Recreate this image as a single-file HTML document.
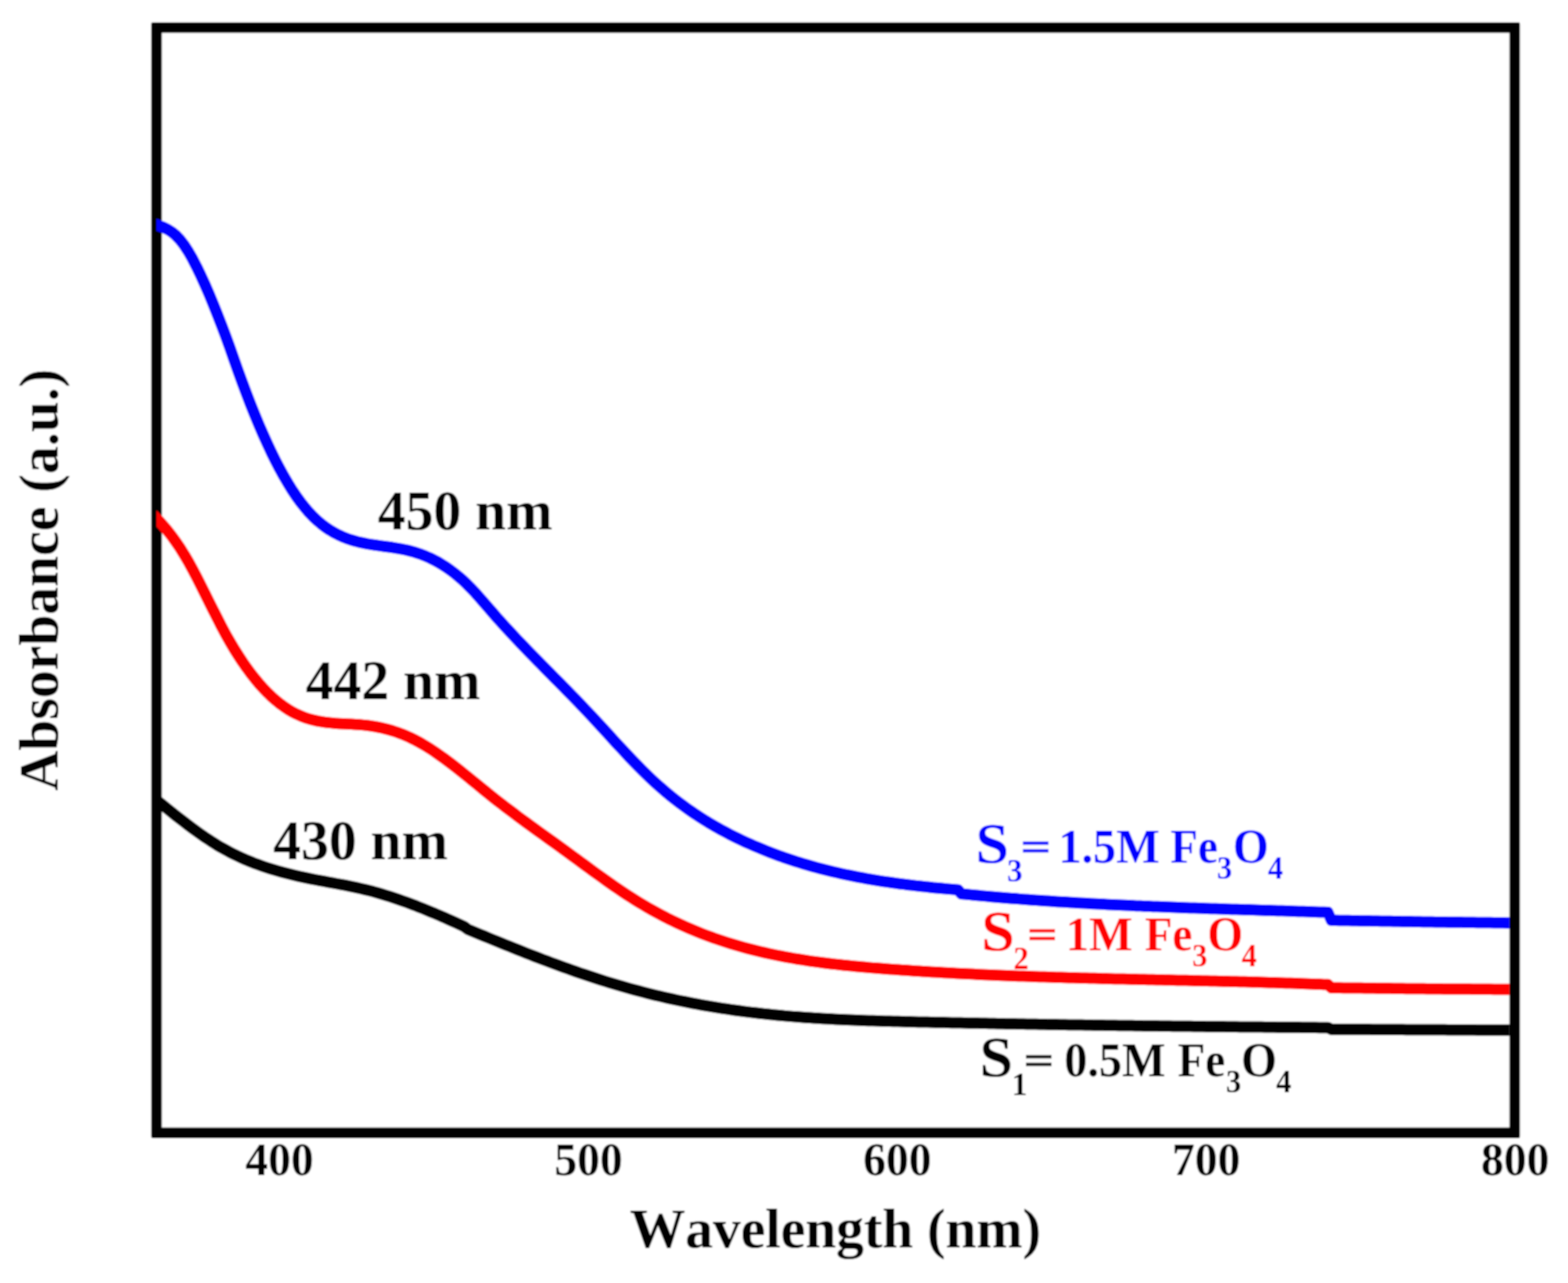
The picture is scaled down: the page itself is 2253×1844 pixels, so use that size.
<!DOCTYPE html>
<html lang="en">
<head>
<meta charset="utf-8">
<title>UV-Vis absorbance spectra of Fe3O4 samples</title>
<style>
html,body{margin:0;padding:0;background:#ffffff;}
body{width:2253px;height:1844px;overflow:hidden;}
svg{display:block;}
text{font-family:"Liberation Serif","DejaVu Serif",serif;font-weight:bold;font-kerning:none;}
text.r{font-weight:normal;}
</style>
</head>
<body>
<svg xmlns="http://www.w3.org/2000/svg" width="2253" height="1844" viewBox="0 0 2253 1844">
<rect x="0" y="0" width="2253" height="1844" fill="#ffffff"/>
<defs><filter id="soft" x="0" y="0" width="2253" height="1844" filterUnits="userSpaceOnUse"><feGaussianBlur stdDeviation="0.8"/></filter></defs>
<g filter="url(#soft)">
<rect x="0" y="0" width="2253" height="1844" fill="#ffffff"/>

<path class="frame" d="M220.20 31.95 H2181.10 Q2184.10 31.95 2184.10 34.95 V1632.90 Q2184.10 1635.90 2181.10 1635.90 H220.20 Q217.20 1635.90 217.20 1632.90 V34.95 Q217.20 31.95 220.20 31.95 Z M232.50 47.25 V1620.60 H2168.80 V47.25 Z" fill="#000" fill-rule="evenodd"/>
<clipPath id="plotclip"><rect x="224.85" y="47.25" width="1943.95" height="1573.35"/></clipPath>
<g clip-path="url(#plotclip)" fill="none" stroke-linejoin="round" stroke-linecap="butt">
<path class="curve black" d="M210.8 1138.6 L216.7 1143.4 L222.6 1148.1 L228.6 1152.9 L234.5 1157.7 L240.4 1162.4 L246.3 1167.2 L252.3 1171.9 L258.2 1176.5 L264.1 1181.1 L270.0 1185.6 L276.0 1190.1 L281.9 1194.4 L287.8 1198.6 L293.7 1202.8 L299.7 1206.7 L305.6 1210.6 L311.5 1214.3 L317.4 1217.8 L323.4 1221.1 L329.3 1224.3 L335.2 1227.3 L341.1 1230.2 L347.1 1233.0 L353.0 1235.6 L358.9 1238.0 L364.8 1240.4 L370.8 1242.6 L376.7 1244.7 L382.6 1246.7 L388.5 1248.6 L394.5 1250.4 L400.4 1252.1 L406.3 1253.8 L412.2 1255.3 L418.2 1256.8 L424.1 1258.2 L430.0 1259.6 L435.9 1260.8 L441.9 1262.1 L447.8 1263.3 L453.7 1264.5 L459.6 1265.6 L465.6 1266.7 L471.5 1267.8 L477.4 1268.9 L483.3 1270.0 L489.3 1271.1 L495.2 1272.2 L501.1 1273.4 L507.0 1274.6 L513.0 1275.9 L518.9 1277.2 L524.8 1278.6 L530.7 1280.1 L536.7 1281.6 L542.6 1283.3 L548.5 1285.0 L554.4 1286.8 L560.4 1288.7 L566.3 1290.6 L572.2 1292.6 L578.1 1294.7 L584.1 1296.8 L590.0 1299.0 L595.9 1301.2 L601.8 1303.6 L607.8 1305.9 L613.7 1308.3 L619.6 1310.8 L625.5 1313.2 L631.5 1315.8 L637.4 1318.3 L643.3 1321.0 L649.2 1323.6 L655.2 1326.3 L661.1 1329.0 L667.0 1331.7 L672.0 1335.6 L678.0 1338.1 L684.0 1340.6 L690.0 1343.1 L696.0 1345.5 L702.0 1348.0 L708.0 1350.5 L714.0 1352.9 L720.0 1355.4 L726.0 1357.8 L732.0 1360.2 L738.0 1362.6 L744.0 1365.0 L750.0 1367.4 L756.0 1369.8 L762.0 1372.1 L768.0 1374.5 L774.0 1376.8 L780.0 1379.1 L786.0 1381.3 L792.0 1383.6 L798.0 1385.8 L804.0 1388.0 L810.0 1390.2 L816.0 1392.3 L822.0 1394.5 L828.0 1396.6 L834.0 1398.7 L840.0 1400.7 L846.0 1402.7 L852.0 1404.7 L858.0 1406.7 L864.0 1408.6 L870.0 1410.5 L876.0 1412.3 L882.0 1414.1 L888.0 1415.9 L894.0 1417.7 L900.0 1419.4 L906.0 1421.1 L912.0 1422.7 L918.0 1424.3 L924.0 1425.9 L930.0 1427.4 L936.0 1428.9 L942.0 1430.4 L948.0 1431.8 L954.0 1433.2 L960.0 1434.6 L966.0 1435.9 L972.0 1437.2 L978.0 1438.5 L984.0 1439.7 L990.0 1440.9 L996.0 1442.1 L1002.0 1443.2 L1008.0 1444.3 L1014.0 1445.4 L1020.0 1446.4 L1026.0 1447.4 L1032.0 1448.4 L1038.0 1449.3 L1044.0 1450.2 L1050.0 1451.1 L1056.0 1452.0 L1062.0 1452.8 L1068.0 1453.6 L1074.0 1454.4 L1080.0 1455.1 L1086.0 1455.8 L1092.0 1456.5 L1098.0 1457.1 L1104.0 1457.8 L1110.0 1458.4 L1116.0 1459.0 L1122.0 1459.5 L1128.0 1460.1 L1134.0 1460.6 L1140.0 1461.1 L1146.0 1461.5 L1152.0 1462.0 L1158.0 1462.4 L1164.0 1462.8 L1170.0 1463.2 L1176.0 1463.6 L1182.0 1463.9 L1188.0 1464.3 L1194.0 1464.6 L1200.0 1464.9 L1206.0 1465.2 L1212.0 1465.5 L1218.0 1465.8 L1224.0 1466.0 L1230.0 1466.3 L1236.0 1466.5 L1242.0 1466.7 L1248.0 1466.9 L1254.0 1467.1 L1260.0 1467.3 L1266.0 1467.5 L1272.0 1467.7 L1278.0 1467.8 L1284.0 1468.0 L1290.0 1468.1 L1296.0 1468.3 L1302.0 1468.4 L1308.0 1468.6 L1314.0 1468.7 L1320.0 1468.9 L1326.0 1469.0 L1332.0 1469.1 L1338.0 1469.2 L1344.0 1469.4 L1350.0 1469.5 L1356.0 1469.6 L1362.0 1469.8 L1368.0 1469.9 L1374.0 1470.0 L1380.0 1470.1 L1386.0 1470.2 L1392.0 1470.4 L1398.0 1470.5 L1404.0 1470.6 L1410.0 1470.7 L1416.0 1470.8 L1422.0 1470.9 L1428.0 1471.1 L1434.0 1471.2 L1440.0 1471.3 L1446.0 1471.4 L1452.0 1471.5 L1458.0 1471.6 L1464.0 1471.7 L1470.0 1471.8 L1476.0 1471.9 L1482.0 1472.0 L1488.0 1472.1 L1494.0 1472.2 L1500.0 1472.3 L1506.0 1472.4 L1512.0 1472.5 L1518.0 1472.6 L1524.0 1472.7 L1530.0 1472.8 L1536.0 1472.9 L1542.0 1473.0 L1548.0 1473.1 L1554.0 1473.1 L1560.0 1473.2 L1566.0 1473.3 L1572.0 1473.4 L1578.0 1473.5 L1584.0 1473.6 L1590.0 1473.7 L1596.0 1473.7 L1602.0 1473.8 L1608.0 1473.9 L1614.0 1474.0 L1620.0 1474.1 L1626.0 1474.1 L1632.0 1474.2 L1638.0 1474.3 L1644.0 1474.4 L1650.0 1474.4 L1656.0 1474.5 L1662.0 1474.6 L1668.0 1474.7 L1674.0 1474.7 L1680.0 1474.8 L1686.0 1474.9 L1692.0 1474.9 L1698.0 1475.0 L1704.0 1475.1 L1710.0 1475.1 L1716.0 1475.2 L1722.0 1475.3 L1728.0 1475.3 L1734.0 1475.4 L1740.0 1475.4 L1746.0 1475.5 L1752.0 1475.6 L1758.0 1475.6 L1764.0 1475.7 L1770.0 1475.8 L1776.0 1475.8 L1782.0 1475.9 L1788.0 1475.9 L1794.0 1476.0 L1800.0 1476.0 L1806.0 1476.1 L1812.0 1476.1 L1818.0 1476.2 L1824.0 1476.3 L1830.0 1476.3 L1836.0 1476.4 L1842.0 1476.4 L1848.0 1476.5 L1854.0 1476.5 L1860.0 1476.6 L1866.0 1476.6 L1872.0 1476.7 L1878.0 1476.7 L1884.0 1476.8 L1890.0 1476.8 L1896.0 1476.9 L1902.0 1476.9 L1908.0 1476.9 L1913.0 1479.4 L1919.0 1479.4 L1925.0 1479.4 L1931.0 1479.5 L1937.0 1479.5 L1943.0 1479.5 L1949.0 1479.6 L1955.0 1479.6 L1961.0 1479.6 L1967.0 1479.6 L1973.0 1479.7 L1979.0 1479.7 L1985.0 1479.7 L1991.0 1479.7 L1997.0 1479.8 L2003.0 1479.8 L2009.0 1479.8 L2015.0 1479.8 L2021.0 1479.9 L2027.0 1479.9 L2033.0 1479.9 L2039.0 1480.0 L2045.0 1480.0 L2051.0 1480.0 L2057.0 1480.0 L2063.0 1480.1 L2069.0 1480.1 L2075.0 1480.1 L2081.0 1480.2 L2087.0 1480.2 L2093.0 1480.2 L2099.0 1480.2 L2105.0 1480.3 L2111.0 1480.3 L2117.0 1480.3 L2123.0 1480.4 L2129.0 1480.4 L2135.0 1480.4 L2141.0 1480.5 L2147.0 1480.5 L2153.0 1480.5 L2159.0 1480.6 L2165.0 1480.6 L2171.0 1480.6 L2177.0 1480.6" stroke="#000" stroke-width="16.5"/>
<path class="curve red" d="M210.8 731.9 L216.8 737.3 L222.8 743.0 L228.8 749.1 L234.8 755.7 L240.8 762.9 L246.8 770.5 L252.8 778.8 L258.8 787.7 L264.8 797.3 L270.8 807.5 L276.8 818.5 L282.8 829.9 L288.8 841.7 L294.8 853.7 L300.8 865.8 L306.8 877.8 L312.8 889.6 L318.7 901.2 L324.7 912.3 L330.7 922.9 L336.7 933.0 L342.7 942.5 L348.7 951.6 L354.7 960.2 L360.7 968.3 L366.7 975.9 L372.7 983.1 L378.7 989.7 L384.7 995.9 L390.7 1001.7 L396.7 1006.9 L402.7 1011.8 L408.7 1016.1 L414.7 1020.1 L420.7 1023.6 L426.7 1026.6 L432.7 1029.3 L438.7 1031.6 L444.7 1033.5 L450.7 1035.0 L456.7 1036.4 L462.7 1037.4 L468.7 1038.3 L474.7 1038.9 L480.7 1039.5 L486.7 1039.9 L492.7 1040.2 L498.7 1040.5 L504.7 1040.8 L510.7 1041.2 L516.7 1041.6 L522.7 1042.1 L528.7 1042.8 L534.6 1043.6 L540.6 1044.6 L546.6 1045.8 L552.6 1047.2 L558.6 1048.8 L564.6 1050.5 L570.6 1052.5 L576.6 1054.7 L582.6 1057.2 L588.6 1059.8 L594.6 1062.7 L600.6 1065.8 L606.6 1069.2 L612.6 1072.8 L618.6 1076.5 L624.6 1080.5 L630.6 1084.7 L636.6 1088.9 L642.6 1093.4 L648.6 1097.9 L654.6 1102.6 L660.6 1107.3 L666.6 1112.1 L672.6 1116.9 L678.6 1121.8 L684.6 1126.7 L690.6 1131.6 L696.6 1136.5 L702.6 1141.4 L708.6 1146.2 L714.6 1150.9 L720.6 1155.5 L726.6 1160.2 L732.6 1164.7 L738.6 1169.2 L744.5 1173.7 L750.5 1178.1 L756.5 1182.5 L762.5 1186.9 L768.5 1191.2 L774.5 1195.6 L780.5 1199.9 L786.5 1204.2 L792.5 1208.5 L798.5 1212.8 L804.5 1217.2 L810.5 1221.5 L816.5 1225.9 L822.5 1230.3 L828.5 1234.7 L834.5 1239.1 L840.5 1243.5 L846.5 1247.9 L852.5 1252.3 L858.5 1256.6 L864.5 1260.9 L870.5 1265.2 L876.5 1269.5 L882.5 1273.7 L888.5 1277.8 L894.5 1281.8 L900.5 1285.8 L906.5 1289.7 L912.5 1293.5 L918.5 1297.2 L924.5 1300.8 L930.5 1304.4 L936.5 1307.8 L942.5 1311.1 L948.5 1314.3 L954.4 1317.4 L960.4 1320.5 L966.4 1323.4 L972.4 1326.3 L978.4 1329.1 L984.4 1331.8 L990.4 1334.4 L996.4 1336.9 L1002.4 1339.4 L1008.4 1341.8 L1014.4 1344.1 L1020.4 1346.3 L1026.4 1348.5 L1032.4 1350.5 L1038.4 1352.5 L1044.4 1354.5 L1050.4 1356.4 L1056.4 1358.2 L1062.4 1359.9 L1068.4 1361.6 L1074.4 1363.2 L1080.4 1364.8 L1086.4 1366.3 L1092.4 1367.7 L1098.4 1369.1 L1104.4 1370.5 L1110.4 1371.8 L1116.4 1373.0 L1122.4 1374.2 L1128.4 1375.3 L1134.4 1376.4 L1140.4 1377.5 L1146.4 1378.5 L1152.4 1379.4 L1158.4 1380.4 L1164.4 1381.3 L1170.3 1382.1 L1176.3 1382.9 L1182.3 1383.7 L1188.3 1384.5 L1194.3 1385.2 L1200.3 1385.9 L1206.3 1386.5 L1212.3 1387.2 L1218.3 1387.8 L1224.3 1388.4 L1230.3 1389.0 L1236.3 1389.5 L1242.3 1390.0 L1248.3 1390.6 L1254.3 1391.1 L1260.3 1391.5 L1266.3 1392.0 L1272.3 1392.5 L1278.3 1392.9 L1284.3 1393.4 L1290.3 1393.8 L1296.3 1394.2 L1302.3 1394.6 L1308.3 1395.0 L1314.3 1395.4 L1320.3 1395.8 L1326.3 1396.2 L1332.3 1396.6 L1338.3 1396.9 L1344.3 1397.3 L1350.3 1397.6 L1356.3 1398.0 L1362.3 1398.3 L1368.3 1398.6 L1374.3 1398.9 L1380.2 1399.3 L1386.2 1399.6 L1392.2 1399.8 L1398.2 1400.1 L1404.2 1400.4 L1410.2 1400.7 L1416.2 1401.0 L1422.2 1401.2 L1428.2 1401.5 L1434.2 1401.7 L1440.2 1402.0 L1446.2 1402.2 L1452.2 1402.4 L1458.2 1402.7 L1464.2 1402.9 L1470.2 1403.1 L1476.2 1403.3 L1482.2 1403.5 L1488.2 1403.7 L1494.2 1403.9 L1500.2 1404.1 L1506.2 1404.3 L1512.2 1404.5 L1518.2 1404.7 L1524.2 1404.8 L1530.2 1405.0 L1536.2 1405.2 L1542.2 1405.3 L1548.2 1405.5 L1554.2 1405.7 L1560.2 1405.8 L1566.2 1406.0 L1572.2 1406.1 L1578.2 1406.3 L1584.2 1406.4 L1590.1 1406.6 L1596.1 1406.7 L1602.1 1406.9 L1608.1 1407.0 L1614.1 1407.1 L1620.1 1407.3 L1626.1 1407.4 L1632.1 1407.5 L1638.1 1407.7 L1644.1 1407.8 L1650.1 1407.9 L1656.1 1408.1 L1662.1 1408.2 L1668.1 1408.3 L1674.1 1408.5 L1680.1 1408.6 L1686.1 1408.7 L1692.1 1408.9 L1698.1 1409.0 L1704.1 1409.1 L1710.1 1409.3 L1716.1 1409.4 L1722.1 1409.5 L1728.1 1409.7 L1734.1 1409.8 L1740.1 1409.9 L1746.1 1410.1 L1752.1 1410.2 L1758.1 1410.4 L1764.1 1410.5 L1770.1 1410.7 L1776.1 1410.8 L1782.1 1411.0 L1788.1 1411.1 L1794.1 1411.3 L1800.1 1411.5 L1806.0 1411.6 L1812.0 1411.8 L1818.0 1412.0 L1824.0 1412.2 L1830.0 1412.3 L1836.0 1412.5 L1842.0 1412.7 L1848.0 1412.9 L1854.0 1413.1 L1860.0 1413.3 L1866.0 1413.5 L1872.0 1413.7 L1878.0 1413.9 L1884.0 1414.2 L1890.0 1414.4 L1896.0 1414.6 L1902.0 1414.9 L1908.0 1415.1 L1913.0 1419.7 L1919.0 1419.7 L1925.0 1419.8 L1931.0 1419.9 L1937.0 1419.9 L1943.0 1420.0 L1949.0 1420.1 L1955.0 1420.1 L1961.0 1420.2 L1967.0 1420.3 L1973.0 1420.3 L1979.0 1420.4 L1985.0 1420.5 L1991.0 1420.5 L1997.0 1420.6 L2003.0 1420.7 L2009.0 1420.7 L2015.0 1420.8 L2021.0 1420.9 L2027.0 1420.9 L2033.0 1421.0 L2039.0 1421.1 L2045.0 1421.1 L2051.0 1421.2 L2057.0 1421.2 L2063.0 1421.3 L2069.0 1421.3 L2075.0 1421.4 L2081.0 1421.4 L2087.0 1421.5 L2093.0 1421.5 L2099.0 1421.5 L2105.0 1421.6 L2111.0 1421.6 L2117.0 1421.7 L2123.0 1421.7 L2129.0 1421.7 L2135.0 1421.8 L2141.0 1421.8 L2147.0 1421.9 L2153.0 1421.9 L2159.0 1421.9 L2165.0 1422.0 L2171.0 1422.0 L2177.0 1422.1" stroke="#f00" stroke-width="16.5"/>
<path class="curve blue" d="M210.8 318.2 L216.8 320.4 L222.8 322.4 L228.7 324.4 L234.7 326.7 L240.7 329.6 L246.7 333.4 L252.6 338.2 L258.6 344.5 L264.6 352.3 L270.6 361.5 L276.6 371.9 L282.5 383.4 L288.5 395.8 L294.5 409.0 L300.5 422.8 L306.4 437.2 L312.4 452.1 L318.4 467.5 L324.4 483.4 L330.4 499.9 L336.3 516.8 L342.3 533.7 L348.3 550.1 L354.3 566.1 L360.2 581.5 L366.2 596.4 L372.2 610.8 L378.2 624.6 L384.2 637.8 L390.1 650.5 L396.1 662.6 L402.1 674.1 L408.1 684.9 L414.1 695.1 L420.0 704.7 L426.0 713.6 L432.0 721.9 L438.0 729.4 L443.9 736.3 L449.9 742.6 L455.9 748.2 L461.9 753.3 L467.9 757.8 L473.8 761.8 L479.8 765.4 L485.8 768.5 L491.8 771.3 L497.7 773.7 L503.7 775.8 L509.7 777.5 L515.7 779.1 L521.7 780.4 L527.6 781.6 L533.6 782.6 L539.6 783.5 L545.6 784.4 L551.5 785.2 L557.5 786.0 L563.5 786.8 L569.5 787.8 L575.5 788.8 L581.4 790.0 L587.4 791.4 L593.4 792.9 L599.4 794.8 L605.3 796.8 L611.3 799.2 L617.3 801.8 L623.3 804.7 L629.3 807.9 L635.2 811.5 L641.2 815.3 L647.2 819.5 L653.2 824.0 L659.1 828.9 L665.1 834.1 L671.1 839.8 L677.1 845.8 L683.1 852.2 L689.0 858.9 L695.0 865.7 L701.0 872.6 L707.0 879.5 L712.9 886.4 L718.9 893.1 L724.9 899.7 L730.9 906.2 L736.9 912.6 L742.8 919.0 L748.8 925.3 L754.8 931.5 L760.8 937.7 L766.7 943.8 L772.7 949.9 L778.7 956.0 L784.7 962.1 L790.7 968.1 L796.6 974.2 L802.6 980.2 L808.6 986.3 L814.6 992.4 L820.6 998.5 L826.5 1004.6 L832.5 1010.8 L838.5 1017.1 L844.5 1023.4 L850.4 1029.7 L856.4 1036.2 L862.4 1042.7 L868.4 1049.2 L874.4 1055.7 L880.3 1062.3 L886.3 1068.8 L892.3 1075.2 L898.3 1081.7 L904.2 1088.0 L910.2 1094.3 L916.2 1100.4 L922.2 1106.5 L928.2 1112.4 L934.1 1118.1 L940.1 1123.7 L946.1 1129.1 L952.1 1134.3 L958.0 1139.4 L964.0 1144.3 L970.0 1149.1 L976.0 1153.7 L982.0 1158.1 L987.9 1162.5 L993.9 1166.6 L999.9 1170.7 L1005.9 1174.6 L1011.8 1178.4 L1017.8 1182.1 L1023.8 1185.6 L1029.8 1189.1 L1035.8 1192.4 L1041.7 1195.6 L1047.7 1198.8 L1053.7 1201.8 L1059.7 1204.7 L1065.6 1207.6 L1071.6 1210.4 L1077.6 1213.1 L1083.6 1215.7 L1089.6 1218.2 L1095.5 1220.7 L1101.5 1223.1 L1107.5 1225.5 L1113.5 1227.7 L1119.4 1229.9 L1125.4 1232.1 L1131.4 1234.1 L1137.4 1236.1 L1143.4 1238.1 L1149.3 1239.9 L1155.3 1241.8 L1161.3 1243.5 L1167.3 1245.2 L1173.2 1246.9 L1179.2 1248.5 L1185.2 1250.0 L1191.2 1251.5 L1197.2 1253.0 L1203.1 1254.3 L1209.1 1255.7 L1215.1 1257.0 L1221.1 1258.2 L1227.1 1259.4 L1233.0 1260.6 L1239.0 1261.7 L1245.0 1262.8 L1251.0 1263.9 L1256.9 1264.9 L1262.9 1265.8 L1268.9 1266.8 L1274.9 1267.7 L1280.9 1268.5 L1286.8 1269.4 L1292.8 1270.2 L1298.8 1270.9 L1304.8 1271.7 L1310.7 1272.4 L1316.7 1273.1 L1322.7 1273.8 L1328.7 1274.4 L1334.7 1275.0 L1340.6 1275.7 L1346.6 1276.2 L1352.6 1276.8 L1358.6 1277.4 L1364.5 1277.9 L1370.5 1278.4 L1376.5 1279.0 L1381.5 1284.7 L1387.5 1285.3 L1393.5 1285.9 L1399.4 1286.5 L1405.4 1287.0 L1411.4 1287.6 L1417.4 1288.1 L1423.4 1288.7 L1429.4 1289.2 L1435.3 1289.7 L1441.3 1290.2 L1447.3 1290.7 L1453.3 1291.2 L1459.3 1291.6 L1465.3 1292.1 L1471.2 1292.6 L1477.2 1293.0 L1483.2 1293.4 L1489.2 1293.9 L1495.2 1294.3 L1501.2 1294.7 L1507.1 1295.1 L1513.1 1295.5 L1519.1 1295.9 L1525.1 1296.2 L1531.1 1296.6 L1537.1 1297.0 L1543.0 1297.3 L1549.0 1297.7 L1555.0 1298.0 L1561.0 1298.3 L1567.0 1298.7 L1573.0 1299.0 L1578.9 1299.3 L1584.9 1299.6 L1590.9 1299.9 L1596.9 1300.2 L1602.9 1300.5 L1608.9 1300.8 L1614.8 1301.1 L1620.8 1301.3 L1626.8 1301.6 L1632.8 1301.9 L1638.8 1302.1 L1644.8 1302.4 L1650.7 1302.6 L1656.7 1302.9 L1662.7 1303.1 L1668.7 1303.3 L1674.7 1303.6 L1680.6 1303.8 L1686.6 1304.0 L1692.6 1304.2 L1698.6 1304.5 L1704.6 1304.7 L1710.6 1304.9 L1716.5 1305.1 L1722.5 1305.3 L1728.5 1305.5 L1734.5 1305.7 L1740.5 1305.9 L1746.5 1306.1 L1752.4 1306.3 L1758.4 1306.5 L1764.4 1306.7 L1770.4 1306.9 L1776.4 1307.1 L1782.4 1307.3 L1788.3 1307.5 L1794.3 1307.6 L1800.3 1307.8 L1806.3 1308.0 L1812.3 1308.2 L1818.3 1308.4 L1824.2 1308.6 L1830.2 1308.8 L1836.2 1309.0 L1842.2 1309.1 L1848.2 1309.3 L1854.2 1309.5 L1860.1 1309.7 L1866.1 1309.9 L1872.1 1310.1 L1878.1 1310.3 L1884.1 1310.5 L1890.1 1310.7 L1896.0 1310.9 L1902.0 1311.1 L1908.0 1311.3 L1913.0 1322.7 L1919.0 1322.8 L1925.0 1322.9 L1931.0 1323.0 L1937.0 1323.1 L1943.0 1323.2 L1949.0 1323.3 L1955.0 1323.4 L1961.0 1323.5 L1967.0 1323.6 L1973.0 1323.7 L1979.0 1323.8 L1985.0 1323.9 L1991.0 1324.0 L1997.0 1324.1 L2003.0 1324.2 L2009.0 1324.3 L2015.0 1324.4 L2021.0 1324.5 L2027.0 1324.6 L2033.0 1324.7 L2039.0 1324.8 L2045.0 1324.9 L2051.0 1325.0 L2057.0 1325.1 L2063.0 1325.2 L2069.0 1325.2 L2075.0 1325.3 L2081.0 1325.4 L2087.0 1325.4 L2093.0 1325.5 L2099.0 1325.6 L2105.0 1325.7 L2111.0 1325.7 L2117.0 1325.8 L2123.0 1325.9 L2129.0 1325.9 L2135.0 1326.0 L2141.0 1326.1 L2147.0 1326.2 L2153.0 1326.2 L2159.0 1326.3 L2165.0 1326.4 L2171.0 1326.4 L2177.0 1326.5" stroke="#00f" stroke-width="16.5"/>
</g>
<text transform="translate(401.7 1688.6) scale(1.0 1.045)" font-size="65.5" text-anchor="middle">400</text>
<text transform="translate(845.5 1688.6) scale(1.0 1.045)" font-size="65.5" text-anchor="middle">500</text>
<text transform="translate(1289.4 1688.6) scale(1.0 1.045)" font-size="65.5" text-anchor="middle">600</text>
<text transform="translate(1733.2 1688.6) scale(1.0 1.045)" font-size="65.5" text-anchor="middle">700</text>
<text transform="translate(2177.2 1688.6) scale(1.0 1.045)" font-size="65.5" text-anchor="middle">800</text>
<text x="1200.2" y="1793.3" font-size="80" fill="#000" text-anchor="middle" letter-spacing="-0.15">Wavelength (nm)</text>
<text transform="translate(83 833.5) rotate(-90)" font-size="80" text-anchor="middle">Absorbance (a.u.)</text>
<text x="542.8" y="760.5" font-size="80" fill="#000" text-anchor="start" >450 nm</text>
<text x="439.3" y="1004.5" font-size="80" fill="#000" text-anchor="start" >442 nm</text>
<text x="392.5" y="1235.3" font-size="80" fill="#000" text-anchor="start" >430 nm</text>
<g class="legend">
<text transform="translate(1401.7 1239.5) scale(1.05 1.0)" font-size="82" fill="#0000ff" stroke="#0000ff" stroke-width="0">S</text>
<text transform="translate(1446.9 1266.8) scale(1.0 1.03)" font-size="44.5" fill="#0000ff" stroke="#0000ff" stroke-width="0">3</text>
<text transform="translate(1466.4 1234.5) scale(1.16 0.84)" font-size="66" fill="#0000ff" stroke="#0000ff" stroke-width="1.0">=</text>
<text transform="translate(1520.9 1239.5) scale(1.0 1.045)" font-size="66.3" fill="#0000ff">1.5M</text>
<text transform="translate(1681.7 1239.5) scale(0.975 1.045)" font-size="66.3" fill="#0000ff">Fe</text>
<text transform="translate(1748.4 1263.4) scale(1.0 1.045)" font-size="44" fill="#0000ff">3</text>
<text transform="translate(1771.4 1239.5) scale(1.0 1.045)" font-size="66.3" fill="#0000ff">O</text>
<text transform="translate(1821.7 1263.4) scale(1.0 1.045)" font-size="44" fill="#0000ff">4</text>
</g>
<g class="legend">
<text transform="translate(1409.9 1365.5) scale(1.05 1.0)" font-size="82" fill="#ff0000" stroke="#ff0000" stroke-width="0">S</text>
<text transform="translate(1455.9 1392.8) scale(1.0 1.03)" font-size="44.5" fill="#ff0000" stroke="#ff0000" stroke-width="0">2</text>
<text transform="translate(1475.9 1360.5) scale(1.16 0.84)" font-size="66" fill="#ff0000" stroke="#ff0000" stroke-width="1.0">=</text>
<text transform="translate(1531.5 1365.5) scale(1.0 1.045)" font-size="66.3" fill="#ff0000">1M</text>
<text transform="translate(1645.1 1365.5) scale(0.975 1.045)" font-size="66.3" fill="#ff0000">Fe</text>
<text transform="translate(1713.0 1389.4) scale(1.0 1.045)" font-size="44" fill="#ff0000">3</text>
<text transform="translate(1734.8 1365.5) scale(1.0 1.045)" font-size="66.3" fill="#ff0000">O</text>
<text transform="translate(1783.9 1389.4) scale(1.0 1.045)" font-size="44" fill="#ff0000">4</text>
</g>
<g class="legend">
<text transform="translate(1407.6 1546.5) scale(1.05 1.0)" font-size="82" fill="#000000" stroke="#000000" stroke-width="0">S</text>
<text transform="translate(1453.9 1573.8) scale(1.0 1.03)" font-size="44.5" fill="#000000" stroke="#000000" stroke-width="0">1</text>
<text transform="translate(1471.1 1541.5) scale(1.16 0.84)" font-size="66" fill="#000000" stroke="#000000" stroke-width="1.0">=</text>
<text transform="translate(1529.3 1546.5) scale(1.0 1.045)" font-size="66.3" fill="#000000">0.5M</text>
<text transform="translate(1692.3 1546.5) scale(0.975 1.045)" font-size="66.3" fill="#000000">Fe</text>
<text transform="translate(1761.4 1570.4) scale(1.0 1.045)" font-size="44" fill="#000000">3</text>
<text transform="translate(1783.2 1546.5) scale(1.0 1.045)" font-size="66.3" fill="#000000">O</text>
<text transform="translate(1833.5 1570.4) scale(1.0 1.045)" font-size="44" fill="#000000">4</text>
</g>
</g>
</svg>
</body>
</html>
